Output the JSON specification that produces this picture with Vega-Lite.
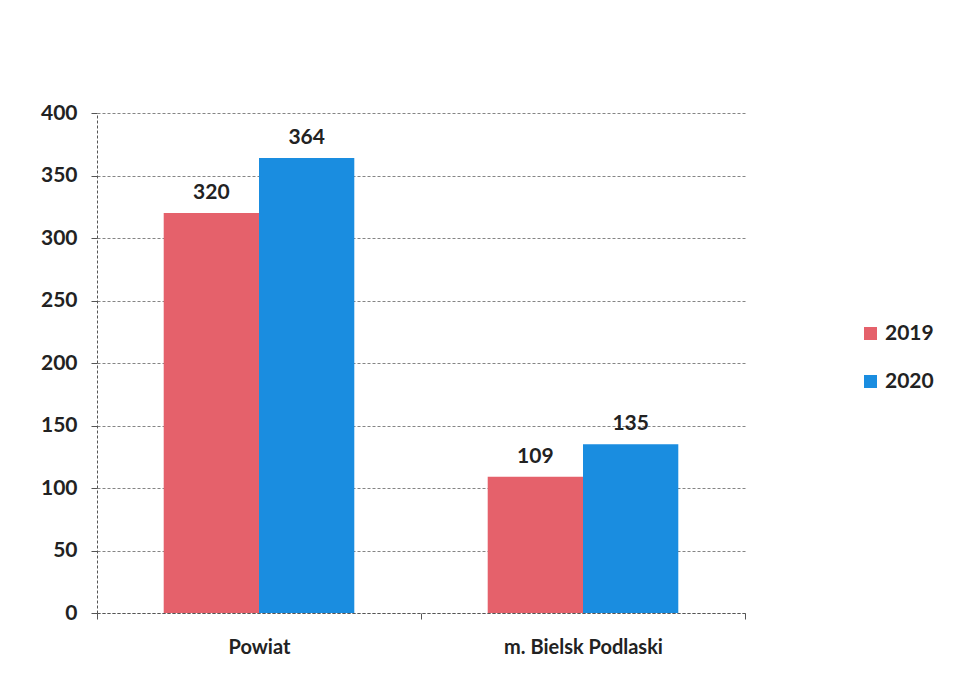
{
  "$schema": "https://vega.github.io/schema/vega-lite/v6.json",
  "autosize": "none",
  "width": 648,
  "height": 500,
  "padding": {"left": 97, "top": 113, "right": 219, "bottom": 75},
  "background": "white",
  "config": {
    "font": "Lato",
    "view": {"stroke": null}
  },
  "data": {
    "values": [
      {"kategoria": "Powiat", "rok": "2019", "liczba": 320},
      {"kategoria": "Powiat", "rok": "2020", "liczba": 364},
      {"kategoria": "m. Bielsk Podlaski", "rok": "2019", "liczba": 109},
      {"kategoria": "m. Bielsk Podlaski", "rok": "2020", "liczba": 135}
    ]
  },
  "encoding": {
    "x": {
      "field": "kategoria",
      "type": "nominal",
      "sort": ["Powiat", "m. Bielsk Podlaski"],
      "scale": {"paddingInner": 0, "paddingOuter": 0},
      "axis": {
        "title": null,
        "labelAngle": 0,
        "labelFont": "Lato",
        "labelFontWeight": "bold",
        "labelFontSize": 20,
        "labelColor": "#222222",
        "labelPadding": 18,
        "domainColor": "#555555",
        "domainDash": [3, 2],
        "tickColor": "#555555",
        "tickBand": "extent",
        "tickSize": 6
      }
    },
    "y": {
      "field": "liczba",
      "type": "quantitative",
      "scale": {"domain": [0, 400]},
      "axis": {
        "title": null,
        "values": [0, 50, 100, 150, 200, 250, 300, 350, 400],
        "labelFont": "Lato",
        "labelFontWeight": "bold",
        "labelFontSize": 21,
        "labelColor": "#222222",
        "labelPadding": 14,
        "domainColor": "#555555",
        "domainDash": [3, 2],
        "tickColor": "#555555",
        "tickSize": 6,
        "gridColor": "#666666",
        "gridDash": [3, 2],
        "gridOpacity": 0.8
      }
    },
    "xOffset": {
      "field": "rok",
      "type": "nominal",
      "scale": {"paddingInner": 0, "paddingOuter": 0.7}
    }
  },
  "layer": [
    {
      "mark": {"type": "bar"},
      "encoding": {
        "color": {
          "field": "rok",
          "type": "nominal",
          "scale": {"domain": ["2019", "2020"], "range": ["#e5616b", "#1a8de0"]},
          "legend": {
            "title": null,
            "orient": "none",
            "legendX": 763,
            "legendY": 210,
            "symbolType": "square",
            "symbolSize": 170,
            "labelFont": "Lato",
            "labelFontWeight": "bold",
            "labelFontSize": 21,
            "labelColor": "#222222",
            "rowPadding": 26
          }
        }
      }
    },
    {
      "mark": {
        "type": "text",
        "dy": -20,
        "font": "Lato",
        "fontWeight": "bold",
        "fontSize": 21,
        "color": "#222222"
      },
      "encoding": {
        "text": {"field": "liczba", "type": "quantitative"}
      }
    }
  ]
}
